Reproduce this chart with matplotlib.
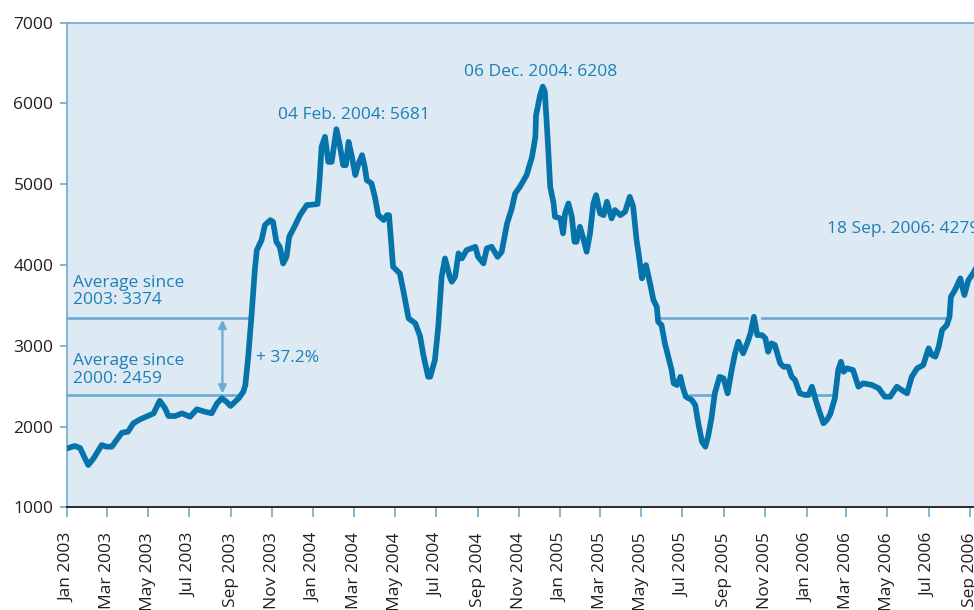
import matplotlib
matplotlib.use("Agg")
import matplotlib.pyplot as plt
import matplotlib.dates as mdates
import pandas as pd

plt.rcParams['font.family'] = ['Open Sans', 'DejaVu Sans']

# index values, x = days since 1 Jan 2003
days = [0, 11, 19, 25, 31, 39, 51, 58, 66, 73, 81, 90, 98, 108, 119, 128, 137, 145, 150, 160,
        170, 182, 192, 204, 214, 222, 229, 236, 242, 254, 261, 264, 268, 273, 278, 281, 288, 293, 301, 305,
        310, 315, 320, 325, 329, 338, 345, 355, 371, 374, 377, 382, 387, 392, 399, 404, 409, 413, 417, 422,
        427, 431, 437, 441, 444, 451, 456, 461, 469, 474, 477, 483, 493, 498, 506, 516, 523, 528, 535, 538,
        545, 550, 555, 560, 567, 570, 575, 580, 585, 592, 605, 609, 617, 622, 629, 638, 644, 652, 659, 664,
        671, 681, 689, 694, 695, 701, 705, 708, 712, 716, 721, 723, 731, 735, 738, 743, 748, 752, 755, 760,
        765, 770, 775, 780, 784, 790, 795, 800, 807, 812, 820, 827, 834, 839, 844, 847, 852, 858, 864, 869,
        874, 876, 881, 886, 891, 896, 899, 904, 909, 913, 917, 926, 931, 936, 941, 946, 950, 955, 960, 967,
        973, 979, 985, 990, 995, 1002, 1008, 1013, 1018, 1023, 1030, 1035, 1039, 1044, 1049, 1057, 1062, 1069, 1074, 1079,
        1086, 1094, 1099, 1104, 1111, 1121, 1126, 1131, 1138, 1143, 1147, 1151, 1156, 1165, 1173, 1180, 1193, 1203, 1212, 1220,
        1230, 1237, 1245, 1252, 1260, 1269, 1277, 1282, 1287, 1292, 1297, 1304, 1308, 1310, 1316, 1324, 1330, 1336, 1343, 1350,
        1356]
index = [1730, 1759, 1734, 1626, 1523, 1606, 1771, 1750, 1750, 1833, 1923, 1936, 2040, 2089, 2130, 2163, 2319, 2225, 2130, 2130,
         2163, 2121, 2213, 2183, 2163, 2287, 2349, 2307, 2254, 2349, 2431, 2514, 2844, 3359, 3937, 4184, 4308, 4494, 4555, 4535,
         4287, 4225, 4019, 4101, 4349, 4494, 4617, 4741, 4754, 5051, 5463, 5587, 5277, 5277, 5681, 5484, 5236, 5236, 5525, 5339,
         5113, 5236, 5360, 5215, 5051, 5010, 4844, 4617, 4556, 4617, 4617, 3978, 3896, 3690, 3339, 3277, 3120, 2880, 2616, 2616,
         2823, 3235, 3854, 4081, 3854, 3792, 3854, 4144, 4082, 4184, 4225, 4101, 4020, 4206, 4226, 4101, 4163, 4514, 4700, 4886,
         4968, 5113, 5339, 5587, 5855, 6103, 6208, 6144, 5587, 4968, 4762, 4597, 4577, 4391, 4638, 4762, 4597, 4287, 4287, 4473,
         4329, 4163, 4391, 4762, 4865, 4638, 4617, 4783, 4577, 4680, 4617, 4659, 4844, 4721, 4308, 4144, 3834, 3999, 3772, 3566,
         3483, 3297, 3256, 3030, 2864, 2699, 2535, 2514, 2616, 2473, 2369, 2328, 2266, 2019, 1812, 1750, 1874, 2101, 2411, 2616,
         2596, 2411, 2699, 2906, 3050, 2906, 3030, 3153, 3359, 3132, 3132, 3092, 2926, 3030, 3009, 2782, 2740, 2740, 2616, 2575,
         2411, 2390, 2390, 2493, 2287, 2040, 2080, 2150, 2349, 2699, 2802, 2678, 2720, 2699, 2493, 2535, 2514, 2473, 2369, 2369,
         2493, 2452, 2411, 2616, 2720, 2761, 2968, 2885, 2864, 2988, 3194, 3256, 3359, 3606, 3689, 3834, 3627, 3813, 3896, 4000,
         4279]

# average levels and the day ranges where they are drawn
avg_2003 = 3340
avg_2003_spans = [(0, 269), (880, 1008), (1030, 1303)]
avg_2000 = 2390
avg_2000_spans = [(0, 250), (923, 957), (1112, 1135)]

start = pd.Timestamp("2003-01-01")
def d(n):
    return start + pd.to_timedelta(n, unit="D")

dates = [d(n) for n in days]

LINE = "#0673ab"
TXT = "#1d7fb6"
LIGHT = "#6aaad3"
BG = "#ddeaf4"

fig = plt.figure(figsize=(9.74, 6.10), dpi=100)
ax = fig.add_axes([0.0691, 0.1684, 0.9487, 0.7944])
ax.set_facecolor(BG)

for a, b in avg_2003_spans:
    ax.plot([d(a), d(b)], [avg_2003, avg_2003], color=LIGHT, lw=1.9, zorder=2)
for a, b in avg_2000_spans:
    ax.plot([d(a), d(b)], [avg_2000, avg_2000], color=LIGHT, lw=1.9, zorder=2)

ax.plot(dates, index, color=LINE, lw=4.1, solid_joinstyle="round", zorder=3)

ax.annotate("", xy=(d(230), avg_2000 + 20), xytext=(d(230), avg_2003 - 20),
            arrowprops=dict(arrowstyle="<|-|>", color=LIGHT, lw=1.6, mutation_scale=12,
                            shrinkA=0, shrinkB=0))

fs = 12.5
ax.text(d(425), 5855, "04 Feb. 2004: 5681", color=TXT, fontsize=fs, ha="center", va="center")
ax.text(d(702), 6387, "06 Dec. 2004: 6208", color=TXT, fontsize=fs, ha="center", va="center")
ax.text(d(1126), 4444, "18 Sep. 2006: 4279", color=TXT, fontsize=fs, ha="left", va="center")
ax.text(d(8), 3671, "Average since\n2003: 3374", color=TXT, fontsize=fs, ha="left", va="center",
        linespacing=1.15)
ax.text(d(8), 2699, "Average since\n2000: 2459", color=TXT, fontsize=fs, ha="left", va="center",
        linespacing=1.15)
ax.text(d(280), 2848, "+ 37.2%", color=TXT, fontsize=fs, ha="left", va="center")

ax.set_ylim(1000, 7000)
ax.set_yticks(range(1000, 7001, 1000))
ax.set_xlim(d(0), d(1370))
ax.xaxis.set_major_locator(mdates.MonthLocator(bymonth=[1, 3, 5, 7, 9, 11]))
ax.xaxis.set_major_formatter(mdates.DateFormatter("%b %Y"))
plt.setp(ax.get_xticklabels(), rotation=90)

ax.tick_params(axis="x", length=7, width=1.2, color=LIGHT, pad=11, labelsize=fs, labelcolor="#231f20")
ax.tick_params(axis="y", length=5, width=1.2, color=LIGHT, pad=5, labelsize=fs, labelcolor="#231f20")

for s in ["left", "top"]:
    ax.spines[s].set_color(LIGHT)
    ax.spines[s].set_linewidth(1.2)
ax.spines["bottom"].set_color("#2a2a2a")
ax.spines["bottom"].set_linewidth(1.4)
ax.spines["right"].set_visible(False)

fig.savefig("out.png", dpi=100)
